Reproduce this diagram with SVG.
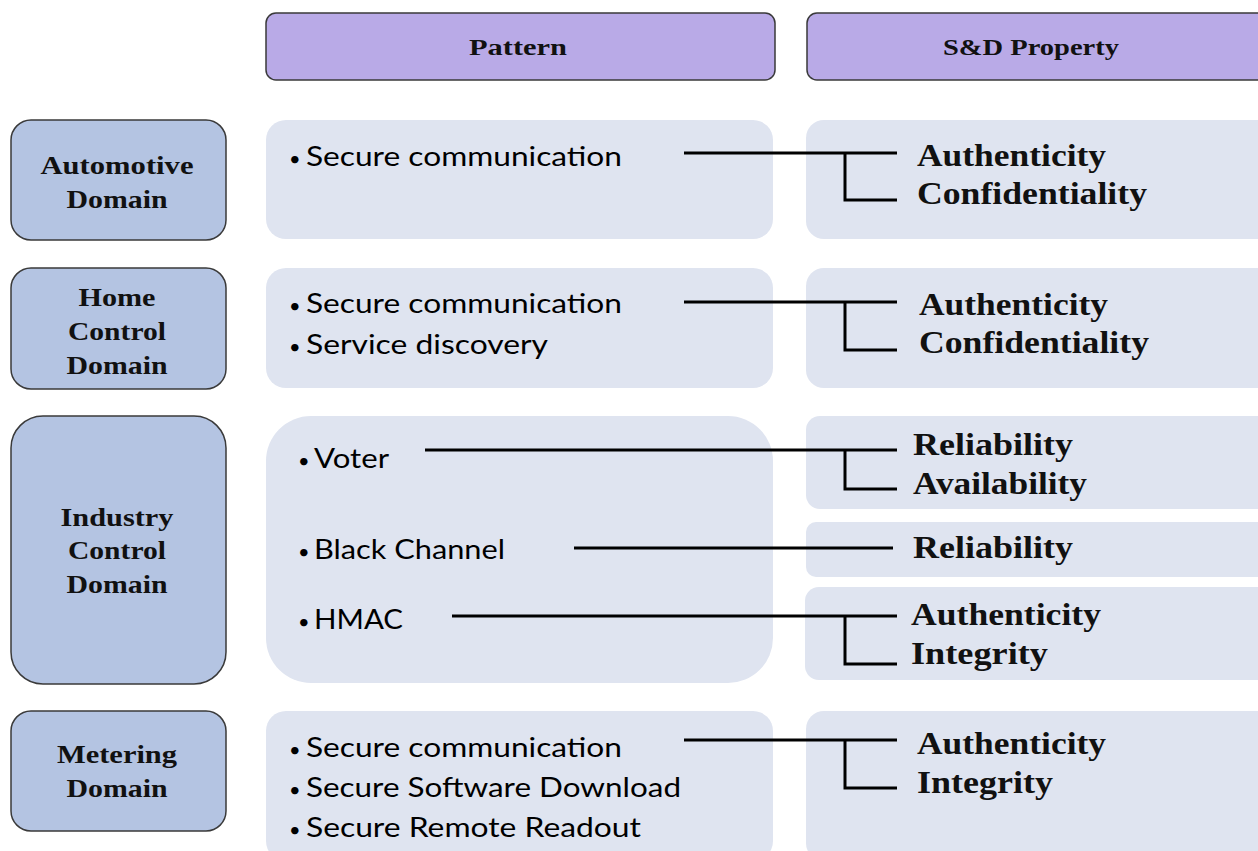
<svg xmlns="http://www.w3.org/2000/svg" width="1258" height="851" viewBox="0 0 1258 851">
<style>
.hdr{fill:#b9aae7;stroke:#3a3a3a;stroke-width:1.5}
.dom{fill:#b4c4e2;stroke:#3a3a3a;stroke-width:1.5}
.pan{fill:#dfe4f0}
.ht{font-family:"Liberation Serif",serif;font-weight:bold;font-size:23px;fill:#111;text-anchor:middle}
.dt{font-family:"Liberation Serif",serif;font-weight:bold;font-size:26px;fill:#111;text-anchor:middle}
.pt{font-family:Lato,"Open Sans",sans-serif;font-size:27px;fill:#000}
.bl{font-size:20px}
.st{font-family:"Liberation Serif",serif;font-weight:bold;font-size:31px;fill:#111}
.ln{fill:none;stroke:#000;stroke-width:3}
</style>
<g id="header-pattern"><rect class="hdr" x="266" y="13" width="509" height="67" rx="10"/><text class="ht" x="518" y="55" textLength="98" lengthAdjust="spacingAndGlyphs">Pattern</text></g>
<g id="header-property"><rect class="hdr" x="807" y="13" width="460" height="67" rx="10"/><text class="ht" x="1031" y="55" textLength="176" lengthAdjust="spacingAndGlyphs">S&amp;D Property</text></g>

<g id="dom-automotive"><rect class="dom" x="11" y="120" width="215" height="120" rx="20"/><text class="dt" x="117" y="174" textLength="153" lengthAdjust="spacingAndGlyphs">Automotive</text><text class="dt" x="117" y="208" textLength="101" lengthAdjust="spacingAndGlyphs">Domain</text></g>
<g id="dom-home"><rect class="dom" x="11" y="268" width="215" height="121" rx="20"/><text class="dt" x="117" y="306" textLength="77" lengthAdjust="spacingAndGlyphs">Home</text><text class="dt" x="117" y="340" textLength="98" lengthAdjust="spacingAndGlyphs">Control</text><text class="dt" x="117" y="374" textLength="101" lengthAdjust="spacingAndGlyphs">Domain</text></g>
<g id="dom-industry"><rect class="dom" x="11" y="416" width="215" height="268" rx="32"/><text class="dt" x="117" y="526" textLength="113" lengthAdjust="spacingAndGlyphs">Industry</text><text class="dt" x="117" y="559" textLength="98" lengthAdjust="spacingAndGlyphs">Control</text><text class="dt" x="117" y="593" textLength="101" lengthAdjust="spacingAndGlyphs">Domain</text></g>
<g id="dom-metering"><rect class="dom" x="11" y="711" width="215" height="120" rx="20"/><text class="dt" x="117" y="763" textLength="120" lengthAdjust="spacingAndGlyphs">Metering</text><text class="dt" x="117" y="797" textLength="101" lengthAdjust="spacingAndGlyphs">Domain</text></g>

<g id="pat-automotive"><rect class="pan" x="266" y="120" width="507" height="119" rx="20"/><text class="pt" x="289" y="166"><tspan class="bl">•</tspan><tspan x="306" textLength="316" lengthAdjust="spacingAndGlyphs">Secure communication</tspan></text></g>
<g id="pat-home"><rect class="pan" x="266" y="268" width="507" height="120" rx="20"/><text class="pt" x="289" y="313"><tspan class="bl">•</tspan><tspan x="306" textLength="316" lengthAdjust="spacingAndGlyphs">Secure communication</tspan></text><text class="pt" x="289" y="354"><tspan class="bl">•</tspan><tspan x="306" textLength="242" lengthAdjust="spacingAndGlyphs">Service discovery</tspan></text></g>
<g id="pat-industry"><rect class="pan" x="266" y="416" width="507" height="267" rx="45"/><text class="pt" x="298" y="468"><tspan class="bl">•</tspan><tspan x="314" textLength="75" lengthAdjust="spacingAndGlyphs">Voter</tspan></text><text class="pt" x="298" y="559"><tspan class="bl">•</tspan><tspan x="314" textLength="191" lengthAdjust="spacingAndGlyphs">Black Channel</tspan></text><text class="pt" x="298" y="629"><tspan class="bl">•</tspan><tspan x="314" textLength="89" lengthAdjust="spacingAndGlyphs">HMAC</tspan></text></g>
<g id="pat-metering"><rect class="pan" x="266" y="711" width="507" height="150" rx="20"/><text class="pt" x="289" y="757"><tspan class="bl">•</tspan><tspan x="306" textLength="316" lengthAdjust="spacingAndGlyphs">Secure communication</tspan></text><text class="pt" x="289" y="797"><tspan class="bl">•</tspan><tspan x="306" textLength="375" lengthAdjust="spacingAndGlyphs">Secure Software Download</tspan></text><text class="pt" x="289" y="837"><tspan class="bl">•</tspan><tspan x="306" textLength="335" lengthAdjust="spacingAndGlyphs">Secure Remote Readout</tspan></text></g>

<g id="prop-automotive"><rect class="pan" x="806" y="120" width="470" height="119" rx="18"/><text class="st" x="917" y="166" textLength="189" lengthAdjust="spacingAndGlyphs">Authenticity</text><text class="st" x="917" y="204" textLength="230" lengthAdjust="spacingAndGlyphs">Confidentiality</text></g>
<g id="prop-home"><rect class="pan" x="806" y="268" width="470" height="120" rx="18"/><text class="st" x="919" y="315" textLength="189" lengthAdjust="spacingAndGlyphs">Authenticity</text><text class="st" x="919" y="353" textLength="230" lengthAdjust="spacingAndGlyphs">Confidentiality</text></g>
<g id="prop-voter"><rect class="pan" x="806" y="416" width="470" height="93" rx="14"/><text class="st" x="913" y="455" textLength="160" lengthAdjust="spacingAndGlyphs">Reliability</text><text class="st" x="913" y="494" textLength="174" lengthAdjust="spacingAndGlyphs">Availability</text></g>
<g id="prop-black"><rect class="pan" x="806" y="522" width="470" height="55" rx="10"/><text class="st" x="913" y="558" textLength="160" lengthAdjust="spacingAndGlyphs">Reliability</text></g>
<g id="prop-hmac"><rect class="pan" x="805" y="587" width="470" height="93" rx="14"/><text class="st" x="911" y="625" textLength="190" lengthAdjust="spacingAndGlyphs">Authenticity</text><text class="st" x="911" y="664" textLength="137" lengthAdjust="spacingAndGlyphs">Integrity</text></g>
<g id="prop-metering"><rect class="pan" x="806" y="711" width="470" height="150" rx="18"/><text class="st" x="917" y="754" textLength="189" lengthAdjust="spacingAndGlyphs">Authenticity</text><text class="st" x="917" y="793" textLength="136" lengthAdjust="spacingAndGlyphs">Integrity</text></g>

<g id="connectors">
<path class="ln" d="M684 153H897M845 153V200H897"/>
<path class="ln" d="M684 302H897M845 302V350H897"/>
<path class="ln" d="M425 450H897M845 450V489H897"/>
<path class="ln" d="M574 548H893"/>
<path class="ln" d="M452 616H897M845 616V664H897"/>
<path class="ln" d="M684 740H897M845 740V788H897"/>
</g>
</svg>
